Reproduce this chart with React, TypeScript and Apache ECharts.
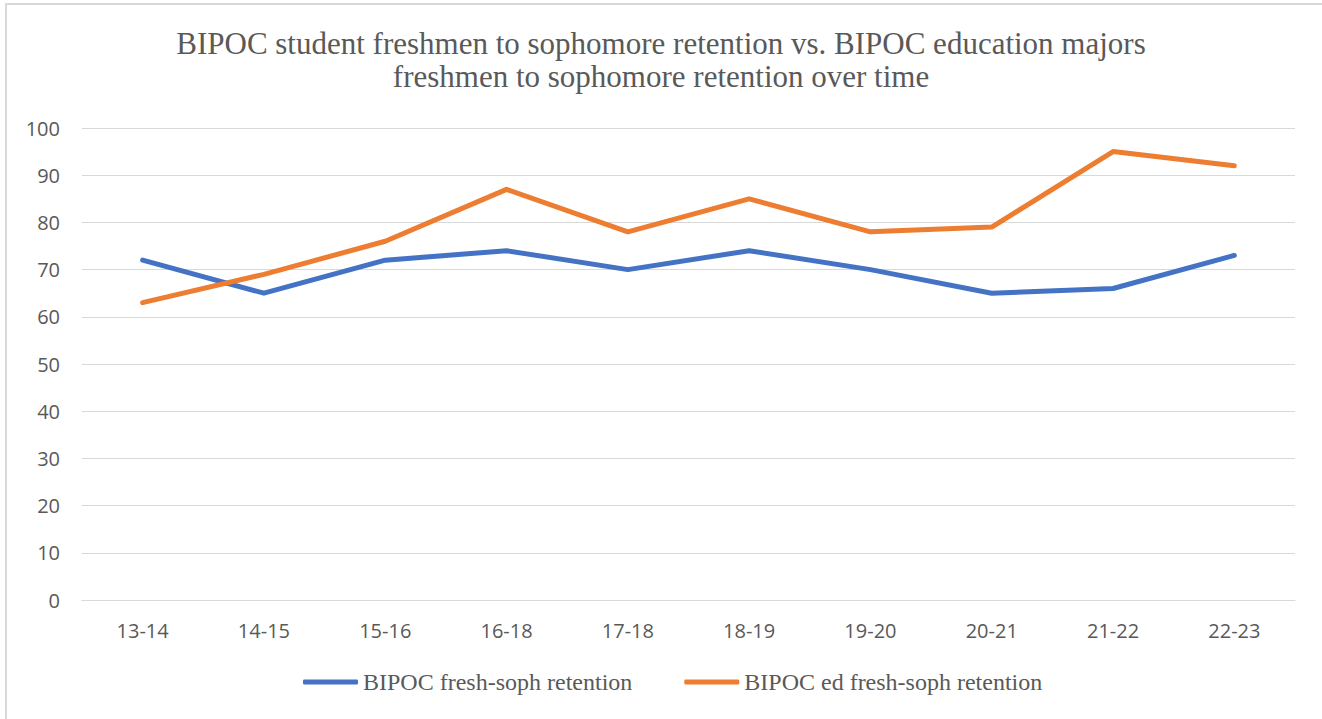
import React, { useEffect, useRef } from "react";
import * as echarts from "echarts";

const categories = ["13-14", "14-15", "15-16", "16-18", "17-18", "18-19", "19-20", "20-21", "21-22", "22-23"];
const bipocRetention = [72, 65, 72, 74, 70, 74, 70, 65, 66, 73];
const bipocEdRetention = [63, 69, 76, 87, 78, 85, 78, 79, 95, 92];
const titleLines = [
  "BIPOC student freshmen to sophomore retention vs. BIPOC education majors",
  "freshmen to sophomore retention over time",
];
const seriesNames = ["BIPOC fresh-soph retention", "BIPOC ed fresh-soph retention"];

export default function App() {
  const ref = useRef<HTMLDivElement>(null);
  useEffect(() => {
    if (!ref.current) return;
    const chart = echarts.init(ref.current, null, { renderer: "svg" });
    const serif = "'Liberation Serif', 'DejaVu Serif', serif";
    const sans = "'Open Sans', 'Noto Sans', sans-serif";
    chart.setOption({
      animation: false,
      backgroundColor: "#ffffff",
      title: {
        text: titleLines.join("\n"),
        left: "center",
        top: 22,
        textStyle: { fontFamily: serif, fontSize: 31, fontWeight: "normal", color: "#595959", lineHeight: 33 },
      },
      graphic: [
        {
          type: "rect",
          shape: { x: 6, y: 4, width: 1400, height: 800 },
          style: { fill: "none", stroke: "#d9d9d9", lineWidth: 2 },
          silent: true,
        },
      ],
      legend: {
        bottom: 20,
        left: 298,
        itemWidth: 55,
        itemHeight: 5,
        itemGap: 52,
        icon: "roundRect",
        textStyle: { fontFamily: serif, fontSize: 24, color: "#595959" },
        data: seriesNames,
      },
      grid: { left: 82, right: 27, top: 128, bottom: 119, containLabel: false },
      xAxis: {
        type: "category",
        data: categories,
        boundaryGap: true,
        axisLine: { lineStyle: { color: "#d9d9d9", width: 1 } },
        axisTick: { show: false },
        axisLabel: { fontFamily: sans, fontSize: 20, color: "#595959", margin: 20 },
      },
      yAxis: {
        type: "value",
        min: 0,
        max: 100,
        interval: 10,
        axisLine: { show: false },
        axisTick: { show: false },
        splitLine: { lineStyle: { color: "#d9d9d9", width: 1 } },
        axisLabel: { fontFamily: sans, fontSize: 20, color: "#595959", margin: 22 },
      },
      series: [
        {
          name: seriesNames[0],
          type: "line",
          data: bipocRetention,
          symbol: "none",
          lineStyle: { color: "#4472C4", width: 5, cap: "round", join: "round" },
          itemStyle: { color: "#4472C4" },
        },
        {
          name: seriesNames[1],
          type: "line",
          data: bipocEdRetention,
          symbol: "none",
          lineStyle: { color: "#ED7D31", width: 5, cap: "round", join: "round" },
          itemStyle: { color: "#ED7D31" },
        },
      ],
    });
    return () => chart.dispose();
  }, []);
  return <div ref={ref} style={{ position: "fixed", left: 0, top: 0, width: 1322, height: 719 }} />;
}
